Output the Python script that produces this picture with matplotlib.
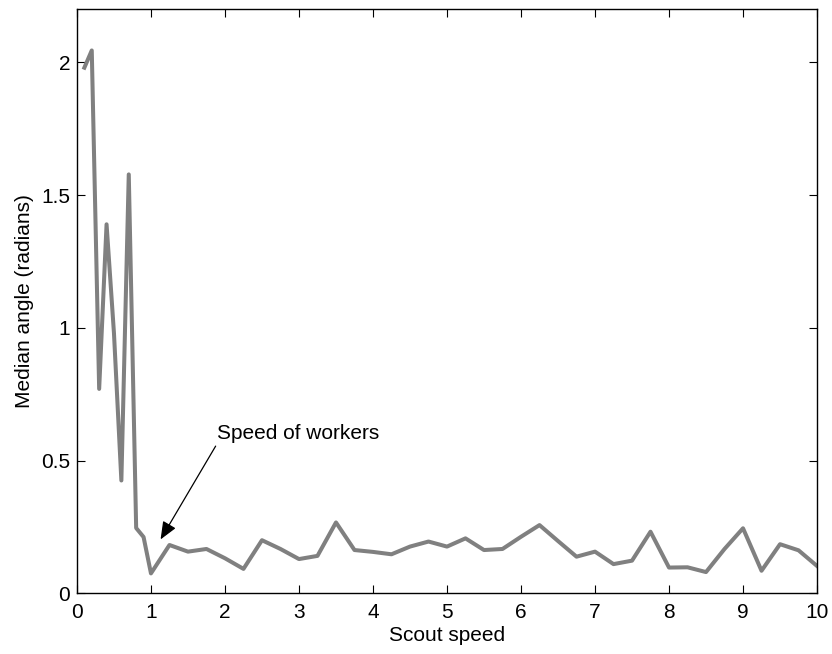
import numpy as np
import matplotlib.pyplot as plt

plt.rcParams['font.family'] = ['Liberation Sans', 'DejaVu Sans']

# scout speed values and median angles
speed = [0.1, 0.2, 0.3, 0.4, 0.5, 0.6, 0.7, 0.8, 0.9, 1.0,
         1.25, 1.5, 1.75, 2.0, 2.25, 2.5, 2.75, 3.0, 3.25, 3.5, 3.75,
         4.0, 4.25, 4.5, 4.75, 5.0, 5.25, 5.5, 5.75, 6.0, 6.25, 6.5, 6.75,
         7.0, 7.25, 7.5, 7.75, 8.0, 8.25, 8.5, 8.75, 9.0, 9.25, 9.5, 9.75, 10.0]
angle = [1.98, 2.045, 0.77, 1.39, 0.98, 0.425, 1.578, 0.246, 0.212, 0.075,
         0.182, 0.157, 0.167, 0.132, 0.092, 0.20, 0.167, 0.129, 0.141, 0.267, 0.163,
         0.156, 0.147, 0.176, 0.195, 0.176, 0.207, 0.163, 0.167, 0.213, 0.257, 0.197, 0.138,
         0.157, 0.11, 0.123, 0.232, 0.097, 0.098, 0.08, 0.167, 0.245, 0.085, 0.185, 0.162, 0.103]

fig = plt.figure(figsize=(8.32, 6.54), dpi=100)
ax = fig.add_axes([0.0925, 0.0928, 0.8895, 0.893])

ax.plot(speed, angle, color="#808080", linewidth=2.9)

ax.set_xlim(0, 10)
ax.set_ylim(0, 2.2)
ax.set_xticks(range(0, 11))
ax.set_yticks([0, 0.5, 1, 1.5, 2])
ax.set_yticklabels(["0", "0.5", "1", "1.5", "2"])
ax.tick_params(direction="in", top=True, right=True, length=6, width=0.8, labelsize=15)
ax.tick_params(axis="x", pad=7)
ax.tick_params(axis="y", pad=5)
for s in ax.spines.values():
    s.set_linewidth(1.0)

ax.set_xlabel("Scout speed", fontsize=15, labelpad=3)
ax.set_ylabel("Median angle (radians)", fontsize=15, labelpad=5)

ax.annotate("Speed of workers", xy=(1.13, 0.203), xytext=(1.896, 0.58),
            fontsize=15, ha="left", va="baseline",
            arrowprops=dict(arrowstyle="-|>,head_length=0.6,head_width=0.25",
                            color="black", lw=0.9, mutation_scale=18,
                            relpos=(0, 0), shrinkA=0, shrinkB=0))

fig.savefig("out.png", dpi=100)
